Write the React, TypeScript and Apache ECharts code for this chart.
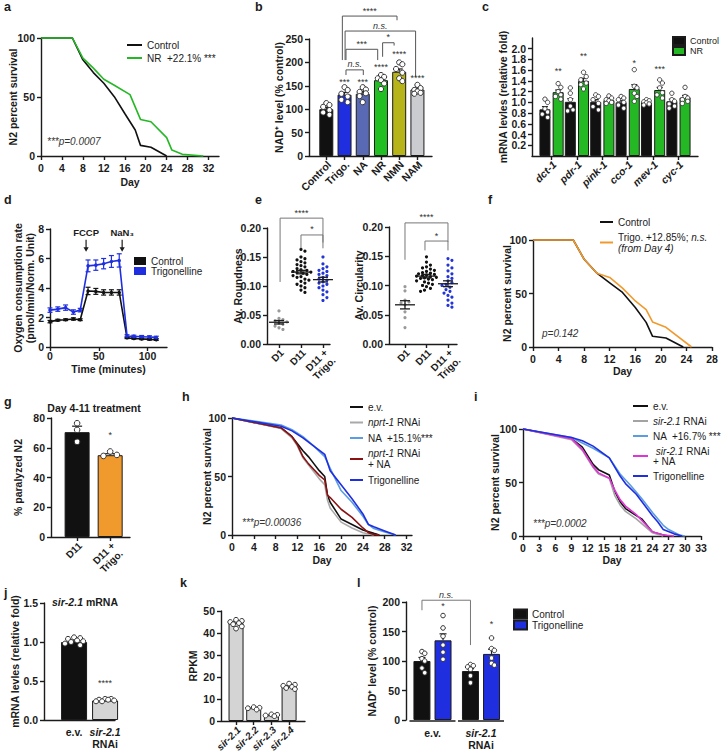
import React, { useEffect, useRef } from "react";
import * as echarts from "echarts";

const FONT = "'Liberation Sans', Arial, Helvetica, sans-serif";
const INK = "#1b1b1b";

/* ======================= DATA ======================= */
// a — N2 lifespan, NR
const A_X_TICKS = [0, 4, 8, 12, 16, 20, 24, 28, 32];
const SURV_Y_TICKS = [0, 50, 100];
const A_CTRL_DAY = [0, 6, 8, 10, 12, 14, 16, 18, 19, 21, 24];
const A_CTRL = [100, 100, 81.5, 70.7, 61.6, 50.3, 36, 22, 9, 7.4, 0];
const A_NR_DAY = [0, 6, 8, 10, 12, 14, 17, 19, 21, 24, 25, 27, 31];
const A_NR = [100, 100, 83, 74.5, 65, 60, 52, 31, 29, 15.6, 5, 1.4, 0];

// b — NAD+ level
const B_CATS = ["Control", "Trigo.", "NA", "NR", "NMN", "NAM"];
const B_MEAN = [100, 131, 133, 162, 180, 142];
const B_SEM = [4, 5, 5, 4, 6, 3];
const B_DOTS = [
  [113, 109, 105, 98, 93, 88],
  [147, 141, 133, 127, 120, 115],
  [147, 142, 137, 134, 128, 115],
  [173, 169, 166, 162, 155, 143],
  [200, 196, 186, 178, 166, 160],
  [152, 145, 141, 138, 135, 133],
];
const B_Y_TICKS = [0, 50, 100, 150, 200, 250];
const B_STARS = ["", "***", "***", "****", "****", "****"];
const B_STAR_Y = [0, 159, 159, 191, 218, 167];
const B_BRACKETS = [
  [0.88, 3.88, 299, 205, 290],
  [1.03, 4.9, 267, 205, 169],
  [1.08, 2.82, 228, 205, 205],
  [3.09, 3.72, 242, 212, 236],
  [1.08, 2.03, 184, 173, 173],
];
const B_BRACKET_LABELS = ["****", "{i|n.s.}", "***", "*", "{i|n.s.}"];

// c — mRNA levels
const C_GENES = ["dct-1", "pdr-1", "pink-1", "cco-1", "mev-1", "cyc-1"];
const C_CTRL_MEAN = [0.87, 1.01, 1.01, 1.0, 1.0, 1.02];
const C_CTRL_SEM = [0.05, 0.06, 0.04, 0.03, 0.02, 0.04];
const C_NR_MEAN = [1.19, 1.4, 1.04, 1.25, 1.23, 1.09];
const C_NR_SEM = [0.04, 0.05, 0.02, 0.08, 0.05, 0.04];
const C_CTRL_DOTS = [
  [1.06, 1.0, 0.88, 0.82, 0.78, 0.72],
  [1.27, 1.17, 1.05, 0.93, 0.86, 0.84],
  [1.14, 1.11, 1.05, 0.98, 0.92, 0.86],
  [1.11, 1.08, 1.05, 1.0, 0.95, 0.89],
  [1.05, 1.03, 1.01, 0.99, 0.97, 0.95],
  [1.17, 1.05, 1.02, 0.97, 0.93, 0.89],
];
const C_NR_DOTS = [
  [1.35, 1.28, 1.2, 1.14, 1.11, 1.06],
  [1.56, 1.48, 1.42, 1.36, 1.33, 1.25],
  [1.12, 1.08, 1.05, 1.03, 1.0, 0.98],
  [1.61, 1.3, 1.27, 1.17, 1.11, 1.02],
  [1.42, 1.36, 1.27, 1.18, 1.14, 1.08],
  [1.28, 1.11, 1.08, 1.05, 1.02, 0.98],
];
const C_Y_TICKS = [0, 0.2, 0.4, 0.6, 0.8, 1.0, 1.2, 1.4, 1.6, 1.8, 2.0, 2.2];
const C_STARS = ["**", "**", "", "*", "***", ""];
const C_STAR_Y = [1.585, 1.86, 0, 1.74, 1.62, 0];

// d — oxygen consumption
const D_TIME = [0, 8, 16, 24, 31, 39, 47, 55, 63, 71, 79, 86, 94, 102, 109];
const D_CTRL = [1.72, 1.82, 1.85, 1.9, 1.85, 3.8, 3.77, 3.7, 3.7, 3.7, 0.62, 0.58, 0.55, 0.52, 0.5];
const D_CTRL_SEM = [0.08, 0.06, 0.06, 0.08, 0.06, 0.25, 0.2, 0.18, 0.18, 0.18, 0.05, 0.05, 0.05, 0.05, 0.05];
const D_TRIG = [2.5, 2.57, 2.67, 2.37, 2.5, 5.5, 5.55, 5.65, 5.8, 5.87, 0.75, 0.72, 0.7, 0.68, 0.65];
const D_TRIG_SEM = [0.15, 0.15, 0.18, 0.15, 0.12, 0.4, 0.35, 0.35, 0.4, 0.45, 0.08, 0.08, 0.08, 0.08, 0.08];
const D_X_TICKS = [0, 50, 100];
const D_Y_TICKS = [0, 2, 4, 6, 8];
const D_INJECT_TIME = [37, 74];
const D_INJECT_LABELS = ["FCCP", "NaN₃"];

// e — roundness / circularity
const E_CATS = ["D1", "D11", "D11 +\nTrigo."];
const E_ROUND = [
  [0.057, 0.044, 0.042, 0.04, 0.038, 0.036, 0.034, 0.031, 0.028, 0.025],
  [0.163, 0.16, 0.15, 0.147, 0.145, 0.142, 0.14, 0.137, 0.135, 0.133, 0.13, 0.128, 0.127, 0.125, 0.124,
    0.123, 0.122, 0.12, 0.118, 0.116, 0.115, 0.112, 0.11, 0.108, 0.105, 0.103, 0.1, 0.097, 0.093, 0.089],
  [0.15, 0.138, 0.133, 0.13, 0.127, 0.125, 0.122, 0.12, 0.118, 0.115, 0.112, 0.11, 0.107, 0.105, 0.103,
    0.1, 0.097, 0.093, 0.09, 0.085, 0.08, 0.075],
];
const E_ROUND_MEAN = [0.0375, 0.124, 0.111];
const E_ROUND_SEM = [0.003, 0.003, 0.004];
const E_CIRC = [
  [0.098, 0.091, 0.075, 0.072, 0.07, 0.067, 0.055, 0.045, 0.028],
  [0.149, 0.14, 0.135, 0.132, 0.13, 0.128, 0.126, 0.124, 0.122, 0.121, 0.12, 0.119, 0.118, 0.117, 0.116,
    0.115, 0.114, 0.113, 0.112, 0.111, 0.11, 0.108, 0.106, 0.104, 0.102, 0.1, 0.098, 0.095, 0.092, 0.09],
  [0.146, 0.143, 0.135, 0.13, 0.125, 0.12, 0.115, 0.112, 0.108, 0.105, 0.102, 0.1, 0.097, 0.093, 0.09,
    0.087, 0.083, 0.08, 0.075, 0.07, 0.066, 0.063],
];
const E_CIRC_MEAN = [0.067, 0.116, 0.103];
const E_CIRC_SEM = [0.007, 0.003, 0.005];
const E_Y_TICKS = [0, 0.05, 0.1, 0.15, 0.2];
const E1_BRACKETS = [
  [0.05, 2.0, 0.217, 0.107, 0.175],
  [1.0, 2.0, 0.188, 0.165, 0.165],
];
const E2_BRACKETS = [
  [0.0, 2.0, 0.207, 0.144, 0.175],
  [0.93, 2.0, 0.176, 0.16, 0.16],
];
const E_BRACKET_LABELS = ["****", "*"];

// f — lifespan, trigonelline from day 4
const F_X_TICKS = [0, 4, 8, 12, 16, 20, 24, 28];
const F_CTRL_DAY = [0, 6.3, 8, 10, 12, 14, 16, 17.7, 18.7, 20.8, 23.5];
const F_CTRL = [100, 100, 82, 69, 60, 51, 37, 23, 10, 8.4, 0];
const F_TRIG_DAY = [0, 6.3, 8, 10, 12, 14, 16, 17.7, 18.7, 20.8, 24.8];
const F_TRIG = [100, 100, 82, 69, 65, 55, 43, 35, 23.4, 18.4, 0];

// g — paralysis
const G_CATS = ["D11", "D11 +\nTrigo."];
const G_MEAN = [70.5, 55];
const G_SEM = [4, 1];
const G_DOTS = [
  [76.5, 72, 64],
  [57.5, 55.2, 54.5],
];
const G_Y_TICKS = [0, 20, 40, 60, 80];
const G_STARS = ["", "*"];
const G_STAR_Y = [0, 68.6];

// h — lifespan, nprt-1
const H_X_TICKS = [0, 4, 8, 12, 16, 20, 24, 28, 32];
const H_EV_DAY = [0, 9, 11, 12, 13, 14, 15, 16, 17, 17.5, 18, 20, 22, 24, 26, 27];
const H_EV = [100, 91.5, 84, 78, 72, 67, 61, 55, 50, 34, 28, 13.6, 9, 4.3, 1.4, 0];
const H_NPRT_DAY = [0, 9, 11, 12, 13, 14, 15, 16, 17, 17.5, 18, 20, 22, 24, 26];
const H_NPRT = [100, 91, 83, 76, 66, 60, 54, 48, 43, 30, 23, 11, 6, 2, 0];
const H_NA_DAY = [0, 9, 11, 13, 15, 17, 18, 20, 22, 24, 25, 26, 28, 30];
const H_NA = [100, 94, 90, 84, 76, 67, 57, 38, 28, 16, 9, 5.5, 2.5, 0];
const H_NPRTNA_DAY = [0, 9, 11, 12, 13, 14, 15, 16, 17, 17.5, 18, 20, 22, 24, 25, 26, 27];
const H_NPRTNA = [100, 91.5, 84, 77, 67, 61, 56, 51, 47, 34, 32, 22, 15, 6, 2, 0.5, 0];
const H_TRIG_DAY = [0, 9, 11, 13, 15, 17, 18, 20, 22, 24, 25, 26, 28, 30];
const H_TRIG = [100, 93, 89, 83, 76, 69, 55, 43, 31, 18, 9, 7, 3.5, 0];

// i — lifespan, sir-2.1
const I_X_TICKS = [0, 3, 6, 9, 12, 15, 18, 21, 24, 27, 30, 33];
const I_EV_DAY = [0, 9, 11, 13, 14, 16, 17, 18, 19, 21, 22, 24, 26, 27];
const I_EV = [100, 91, 83, 67, 62, 57, 42, 32, 25.6, 19, 16, 3.8, 1, 0];
const I_SIR_DAY = [0, 9, 11, 13, 14, 16, 17, 18, 19, 21, 24, 26];
const I_SIR = [100, 90, 80, 64, 58, 54, 38, 29, 23, 16, 3, 0];
const I_NA_DAY = [0, 9, 11, 13, 16, 18, 20, 22, 24, 26, 27, 29, 30];
const I_NA = [100, 92, 87, 82, 73, 58, 47, 35, 22, 10, 6, 1, 0];
const I_SIRNA_DAY = [0, 9, 11, 13, 14, 16, 17, 18, 19, 21, 24, 26, 28];
const I_SIRNA = [100, 91, 81, 65, 59, 54, 43, 34, 28, 20, 4, 1, 0];
const I_TRIG_DAY = [0, 9, 11, 13, 16, 18, 19, 21, 24, 25, 26, 28, 29.5];
const I_TRIG = [100, 92, 89, 84, 73, 56, 49, 39, 19, 13, 6, 2, 0];

// j — sir-2.1 mRNA
const J_CATS = ["e.v.", "{i|sir-2.1}\nRNAi"];
const J_MEAN = [1.0, 0.25];
const J_SEM = [0.015, 0.01];
const J_DOTS = [
  [1.06, 1.05, 1.04, 1.02, 1.01, 1.0, 0.98, 0.96],
  [0.27, 0.27, 0.26, 0.26, 0.25, 0.24, 0.24],
];
const J_Y_TICKS = [0, 0.5, 1.0, 1.5];
const J_STARS = ["", "****"];
const J_STAR_Y = [0, 0.47];

// k — RPKM
const K_CATS = ["sir-2.1", "sir-2.2", "sir-2.3", "sir-2.4"];
const K_MEAN = [44.5, 5.8, 2.6, 15.7];
const K_SEM = [0.6, 0.3, 0.2, 0.4];
const K_DOTS = [
  [46, 45.5, 45, 44.5, 44, 43, 42],
  [6.3, 6.0, 5.8, 5.2],
  [3.0, 2.8, 2.5, 2.2],
  [17, 16.5, 16, 15.5, 15, 14.5],
];
const K_Y_TICKS = [0, 10, 20, 30, 40, 50];

// l — NAD+ with sir-2.1 RNAi
const L_GROUPS = ["e.v.", "{i|sir-2.1}\nRNAi"];
const L_CTRL_MEAN = [100, 83];
const L_CTRL_SEM = [6, 4];
const L_TRIG_MEAN = [135, 112];
const L_TRIG_SEM = [11, 8];
const L_CTRL_DOTS = [
  [116, 113, 104, 100, 88, 80],
  [94, 92, 90, 86, 75, 63],
];
const L_TRIG_DOTS = [
  [177, 156, 142, 127, 115, 103],
  [139, 121, 118, 105, 96, 93],
];
const L_Y_TICKS = [0, 50, 100, 150, 200];
const L_STARS = ["*", "*"];
const L_STAR_Y = [193, 162];
const L_BRACKET = [[-0.217, 0.783, 203, 186, 127]];
const L_BRACKET_LABELS = ["{i|n.s.}"];

/* ======================= LAYOUT HELPERS ======================= */
const GRIDS = [
  { left: 41, top: 38, width: 178, height: 118 }, // 0 a
  { left: 309, top: 39, width: 123, height: 117 }, // 1 b
  { left: 532, top: 38, width: 166, height: 118 }, // 2 c
  { left: 50, top: 229, width: 117, height: 118 }, // 3 d
  { left: 267, top: 228, width: 63, height: 116 }, // 4 e1
  { left: 389, top: 227, width: 68, height: 117 }, // 5 e2
  { left: 533, top: 240, width: 179, height: 107 }, // 6 f
  { left: 51, top: 418, width: 79, height: 119 }, // 7 g
  { left: 232, top: 418, width: 180, height: 117 }, // 8 h
  { left: 523, top: 429, width: 178, height: 107 }, // 9 i
  { left: 44, top: 603, width: 71, height: 117 }, // 10 j
  { left: 221, top: 611, width: 84, height: 110 }, // 11 k
  { left: 406, top: 602, width: 101, height: 118 }, // 12 l
];

const RICH_I = {
  i: { fontStyle: "italic", fontWeight: "bold", fontSize: 10.5, fontFamily: FONT, color: INK },
};
const NAME_STYLE = { fontFamily: FONT, fontWeight: "bold", fontSize: 10.5, color: INK, lineHeight: 12 };

function axis(kind: "x" | "y", gi: number, min: number, max: number, ticks: number[], o: any = {}) {
  const a: any = {
    type: "value",
    gridIndex: gi,
    min,
    max,
    position: kind === "x" ? "bottom" : "left",
    axisLine: { show: o.line !== false, onZero: false, lineStyle: { color: INK, width: 1.4 } },
    axisTick: {
      show: o.tick !== false,
      length: 4,
      customValues: ticks,
      lineStyle: { color: INK, width: 1.4 },
    },
    axisLabel: {
      show: o.label !== false,
      customValues: ticks,
      margin: o.margin ?? 6,
      fontFamily: FONT,
      fontWeight: "bold",
      fontSize: 10.5,
      color: INK,
      lineHeight: 12,
      rich: RICH_I,
    },
    splitLine: { show: false },
    axisPointer: { show: false },
  };
  if (o.fmt) a.axisLabel.formatter = o.fmt;
  if (o.name) {
    a.name = o.name;
    a.nameLocation = "middle";
    a.nameGap = o.nameGap;
    a.nameRotate = kind === "y" ? 90 : 0;
    a.nameTextStyle = NAME_STYLE;
    a.nameMoveOverlap = false;
  }
  return a;
}

function swarm(vals: number[], ppu: number, d: number, maxOff: number): number[] {
  const order = vals.map((_, i) => i).sort((a, b) => vals[b] - vals[a]);
  const placed: number[][] = [];
  const out: number[] = vals.map(() => 0);
  const step = d * 0.55;
  const cands: number[] = [0];
  for (let k = 1; k * step <= maxOff + 1e-6; k++) cands.push(k * step, -k * step);
  for (const i of order) {
    const y = vals[i] * ppu;
    let best = 0;
    let bestScore = -Infinity;
    for (const c of cands) {
      let minD = Infinity;
      for (const p of placed) minD = Math.min(minD, Math.hypot(p[0] - c, p[1] - y));
      if (minD >= d) {
        best = c;
        break;
      }
      if (minD > bestScore) {
        bestScore = minD;
        best = c;
      }
    }
    placed.push([best, y]);
    out[i] = best;
  }
  return out;
}

function ppuOf(gi: number, span: number) {
  return GRIDS[gi].height / span;
}

function dots(gi: number, groups: number[][], xs: number[], ppu: number, o: any) {
  const data: number[][] = [];
  groups.forEach((vals, g) => {
    const offs = swarm(vals, ppu, o.d ?? o.r * 2 + 0.5, o.maxOff);
    vals.forEach((v, k) => data.push([xs[g], v, offs[k] + (o.xoff ?? 0), g]));
  });
  const pick = (c: any, g: number) => (Array.isArray(c) ? c[g] : c);
  return {
    type: "custom",
    xAxisIndex: gi,
    yAxisIndex: gi,
    clip: false,
    silent: true,
    z: 6,
    data,
    renderItem: (_p: any, api: any) => {
      const c = api.coord([api.value(0), api.value(1)]);
      const g = api.value(3);
      return {
        type: "circle",
        shape: { cx: c[0] + api.value(2), cy: c[1], r: o.r },
        style: { fill: pick(o.fill, g), stroke: pick(o.stroke, g), lineWidth: o.lw },
      };
    },
  };
}

function errs(gi: number, xs: number[], means: number[], sems: number[], o: any) {
  return {
    type: "custom",
    xAxisIndex: gi,
    yAxisIndex: gi,
    clip: false,
    silent: true,
    z: o.z ?? 5,
    data: xs.map((x, i) => [x, means[i], sems[i]]),
    renderItem: (_p: any, api: any) => {
      const x = api.value(0);
      const m = api.value(1);
      const s = api.value(2);
      const pt = api.coord([x, m + s]);
      const pb = api.coord([x, o.up ? m : m - s]);
      const pm = api.coord([x, m]);
      const cx = pt[0] + (o.xoff ?? 0);
      const st = { stroke: o.color ?? INK, lineWidth: o.lw ?? 1.2 };
      const ch: any[] = [
        { type: "line", shape: { x1: cx, y1: pt[1], x2: cx, y2: pb[1] }, style: st },
        { type: "line", shape: { x1: cx - o.cap, y1: pt[1], x2: cx + o.cap, y2: pt[1] }, style: st },
      ];
      if (!o.up) ch.push({ type: "line", shape: { x1: cx - o.cap, y1: pb[1], x2: cx + o.cap, y2: pb[1] }, style: st });
      if (o.meanW) ch.push({ type: "line", shape: { x1: cx - o.meanW, y1: pm[1], x2: cx + o.meanW, y2: pm[1] }, style: st });
      return { type: "group", children: ch };
    },
  };
}

function brackets(gi: number, items: number[][], labels: string[], o: any) {
  return {
    type: "custom",
    xAxisIndex: gi,
    yAxisIndex: gi,
    clip: false,
    silent: true,
    z: 7,
    data: items.map((b, i) => [b[0], b[2], b[1], b[3], b[4], i]),
    renderItem: (_p: any, api: any) => {
      const x1 = api.value(0), yT = api.value(1), x2 = api.value(2), yL = api.value(3), yR = api.value(4);
      const i = api.value(5);
      const a = api.coord([x1, yL]);
      const b = api.coord([x1, yT]);
      const c = api.coord([x2, yT]);
      const d = api.coord([x2, yR]);
      return {
        type: "group",
        children: [
          {
            type: "polyline",
            shape: { points: [a, b, c, d] },
            style: { stroke: o.color, lineWidth: o.lw ?? 1, fill: "none" },
          },
          {
            type: "text",
            x: (b[0] + c[0]) / 2,
            y: b[1] - 1,
            style: {
              text: labels[i],
              align: "center",
              verticalAlign: "bottom",
              fontFamily: FONT,
              fontSize: o.size ?? 9,
              fill: "#333",
              rich: { i: { fontStyle: "italic", fontSize: o.size ?? 9, fontFamily: FONT, fill: "#333", color: "#333" } },
            },
          },
        ],
      };
    },
  };
}

function texts(gi: number, xs: number[], ys: number[], labels: string[], o: any = {}) {
  const data: number[][] = [];
  labels.forEach((t, i) => {
    if (t) data.push([xs[i], ys[i], i]);
  });
  return {
    type: "custom",
    xAxisIndex: gi,
    yAxisIndex: gi,
    clip: false,
    silent: true,
    z: 7,
    data,
    renderItem: (_p: any, api: any) => {
      const c = api.coord([api.value(0), api.value(1)]);
      return {
        type: "text",
        x: c[0] + (o.dx ?? 0),
        y: c[1],
        style: {
          text: labels[api.value(2)],
          align: "center",
          verticalAlign: "middle",
          fontFamily: FONT,
          fontSize: o.size ?? 9,
          fill: o.color ?? "#333",
        },
      };
    },
  };
}

// rotated (45°) category labels placed at each tick through the axis scale
function rotLabels(gi: number, xs: number[], labels: string[], o: any = {}) {
  const lh = o.lh ?? 11;
  return {
    type: "custom",
    xAxisIndex: gi,
    yAxisIndex: gi,
    clip: false,
    silent: true,
    z: 8,
    data: xs.map((x, i) => [x, 0, i]),
    renderItem: (_p: any, api: any) => {
      const c = api.coord([api.value(0), api.value(1)]);
      return {
        type: "text",
        x: c[0] + (o.dx ?? 3),
        y: c[1] + (o.dy ?? 7) - lh / 2,
        rotation: Math.PI / 4,
        originX: 0,
        originY: lh / 2,
        style: {
          text: labels[api.value(2)],
          align: "right",
          verticalAlign: "top",
          fontFamily: FONT,
          fontWeight: "bold",
          fontStyle: o.italic ? "italic" : "normal",
          fontSize: o.size ?? 10.5,
          lineHeight: lh,
          fill: INK,
        },
      };
    },
  };
}

function line(gi: number, name: string, xs: number[], ys: number[], color: string, extra: any = {}) {
  return {
    type: "line",
    name,
    xAxisIndex: gi,
    yAxisIndex: gi,
    data: xs.map((x, i) => [x, ys[i]]),
    symbol: "none",
    color,
    lineStyle: { color, width: 1.6 },
    clip: false,
    z: 3,
    ...extra,
  };
}

function bars(gi: number, name: string, xs: number[], vals: number[], color: any, width: number, extra: any = {}) {
  return {
    type: "bar",
    name,
    xAxisIndex: gi,
    yAxisIndex: gi,
    barWidth: width,
    data: xs.map((x, i) => ({
      value: [x, vals[i]],
      itemStyle: { color: Array.isArray(color) ? color[i] : color },
    })),
    itemStyle: { color: Array.isArray(color) ? color[0] : color, borderColor: INK, borderWidth: 1 },
    z: 2,
    ...extra,
  };
}

const idx = (arr: any[]) => arr.map((_, i) => i);

const LEGEND_TEXT: Record<string, string> = {
  "a-ctrl": "Control",
  "a-nr": "NR  +22.1% ***",
  "c-ctrl": "Control",
  "c-nr": "NR",
  "d-ctrl": "Control",
  "d-trig": "Trigonelline",
  "f-ctrl": "Control",
  "f-trig": "Trigo. +12.85%; {i|n.s.}\n{i|(from Day 4)}",
  "h-ev": "e.v.",
  "h-nprt": "{i|nprt-1} RNAi",
  "h-na": "NA  +15.1%***",
  "h-nprtna": "{i|nprt-1} RNAi\n+ NA",
  "h-trig": "Trigonelline",
  "i-ev": "e.v.",
  "i-sir": "{i|sir-2.1} RNAi",
  "i-na": "NA  +16.7% ***",
  "i-sirna": " {i|sir-2.1} RNAi\n+ NA",
  "i-trig": "Trigonelline",
  "l-ctrl": "Control",
  "l-trig": "Trigonelline",
};

function legend(names: string[], left: number, top: number, o: any) {
  const lh = o.lh ?? 11;
  const fs = o.fs ?? 10;
  return {
    data: names,
    left,
    top,
    orient: "vertical",
    padding: 0,
    itemWidth: o.w,
    itemHeight: o.h,
    itemGap: o.gap ?? 0,
    icon: "rect",
    selectedMode: false,
    formatter: (n: string) => LEGEND_TEXT[n],
    textStyle: {
      fontFamily: FONT,
      fontSize: fs,
      color: INK,
      lineHeight: lh,
      rich: { i: { fontStyle: "italic", fontFamily: FONT, fontSize: fs, color: INK, lineHeight: lh } },
    },
  };
}

function gText(x: number, y: number, text: string, o: any = {}) {
  return {
    type: "text",
    x,
    y,
    silent: true,
    style: {
      text,
      fill: o.color ?? INK,
      fontFamily: FONT,
      fontSize: o.size ?? 10,
      fontWeight: o.weight ?? "normal",
      fontStyle: o.style ?? "normal",
      align: o.align ?? "left",
      verticalAlign: "middle",
      rich: o.rich,
    },
  };
}

/* ======================= OPTION ======================= */
function buildOption() {
  const BLUE = "#1f2fe0";
  const LBLUE = "#5b9de0";
  const GREEN = "#25b825";
  const ORANGE = "#f09a2e";
  const GREY_BAR = "#d4d4d4";

  const xAxes = [
    axis("x", 0, 0, 34, A_X_TICKS, { name: "Day", nameGap: 20 }),
    axis("x", 1, -0.95, 5.8, idx(B_CATS), { label: false }),
    axis("x", 2, -0.77, 5.77, idx(C_GENES), { label: false }),
    axis("x", 3, 0, 120, D_X_TICKS, { name: "Time (minutes)", nameGap: 16, margin: 3 }),
    axis("x", 4, -0.545, 2.32, idx(E_CATS), { label: false }),
    axis("x", 5, -0.744, 2.42, idx(E_CATS), { label: false }),
    axis("x", 6, 0, 28, F_X_TICKS, { name: "Day", nameGap: 18 }),
    axis("x", 7, -0.79, 1.6, idx(G_CATS), { label: false }),
    axis("x", 8, 0, 33, H_X_TICKS, { name: "Day", nameGap: 19 }),
    axis("x", 9, 0, 33, I_X_TICKS, { name: "Day", nameGap: 18 }),
    axis("x", 10, -0.97, 1.32, idx(J_CATS), { tick: false, fmt: (v: number) => J_CATS[Math.round(v)], margin: 6 }),
    axis("x", 11, -0.85, 3.9, idx(K_CATS), { label: false }),
    axis("x", 12, -0.546, 1.536, idx(L_GROUPS), { line: false, tick: false, fmt: (v: number) => L_GROUPS[Math.round(v)], margin: 7 }),
  ];

  const yAxes = [
    axis("y", 0, 0, 100, SURV_Y_TICKS, { name: "N2 percent survival", nameGap: 22 }),
    axis("y", 1, 0, 250, B_Y_TICKS, { name: "NAD⁺ level (% control)", nameGap: 24 }),
    axis("y", 2, 0, 2.2, C_Y_TICKS, { name: "mRNA levles (relative fold)", nameGap: 23, fmt: (v: number) => v.toFixed(1) }),
    axis("y", 3, 0, 8, D_Y_TICKS, { name: "Oxygen consumption rate\n(pmol/min/Norm. Unit)", nameGap: 14 }),
    axis("y", 4, 0, 0.2, E_Y_TICKS, { name: "Av. Roundness", nameGap: 23, fmt: (v: number) => v.toFixed(2) }),
    axis("y", 5, 0, 0.2, E_Y_TICKS, { name: "Av. Circularity", nameGap: 24, fmt: (v: number) => v.toFixed(2) }),
    axis("y", 6, 0, 100, SURV_Y_TICKS, { name: "N2 percent survival", nameGap: 20 }),
    axis("y", 7, 0, 80, G_Y_TICKS, { name: "% paralyzed N2", nameGap: 27 }),
    axis("y", 8, 0, 100, SURV_Y_TICKS, { name: "N2 percent survival", nameGap: 19 }),
    axis("y", 9, 0, 100, SURV_Y_TICKS, { name: "N2 percent survival", nameGap: 22 }),
    axis("y", 10, 0, 1.5, J_Y_TICKS, { name: "mRNA levles (relative fold)", nameGap: 23, fmt: (v: number) => v.toFixed(1) }),
    axis("y", 11, 0, 50, K_Y_TICKS, { name: "RPKM", nameGap: 22 }),
    axis("y", 12, 0, 200, L_Y_TICKS, { name: "NAD⁺ level (% control)", nameGap: 28 }),
  ];

  const series: any[] = [];

  // a
  series.push(line(0, "a-ctrl", A_CTRL_DAY, A_CTRL, "#111111"));
  series.push(line(0, "a-nr", A_NR_DAY, A_NR, GREEN));

  // b
  const bx = idx(B_CATS);
  series.push(bars(1, "b-bars", bx, B_MEAN, ["#111111", BLUE, "#5a69b3", "#22bf22", "#b7b41a", "#cbccd0"], 14));
  series.push(errs(1, bx, B_MEAN, B_SEM, { up: true, cap: 3.5 }));
  series.push(dots(1, B_DOTS, bx, ppuOf(1, 250), { r: 2.6, fill: "#fff", stroke: "#333", lw: 1, maxOff: 6 }));
  series.push(brackets(1, B_BRACKETS, B_BRACKET_LABELS, { color: "#555", size: 9 }));
  series.push(texts(1, bx, B_STAR_Y, B_STARS, { size: 9 }));
  series.push(rotLabels(1, bx, B_CATS, { size: 10.5 }));

  // c
  const cx = idx(C_GENES);
  const cOff = 6.6;
  series.push(bars(2, "c-ctrl", cx, C_CTRL_MEAN, "#111111", 11, { barGap: "20%" }));
  series.push(bars(2, "c-nr", cx, C_NR_MEAN, GREEN, 11, { barGap: "20%" }));
  series.push(errs(2, cx, C_CTRL_MEAN, C_CTRL_SEM, { up: true, cap: 3, xoff: -cOff }));
  series.push(errs(2, cx, C_NR_MEAN, C_NR_SEM, { up: true, cap: 3, xoff: cOff }));
  series.push(dots(2, C_CTRL_DOTS, cx, ppuOf(2, 2.2), { r: 2.2, fill: "#fff", stroke: "#333", lw: 0.9, maxOff: 4, xoff: -cOff }));
  series.push(dots(2, C_NR_DOTS, cx, ppuOf(2, 2.2), { r: 2.2, fill: "#fff", stroke: "#333", lw: 0.9, maxOff: 4, xoff: cOff }));
  series.push(texts(2, cx, C_STAR_Y, C_STARS, { size: 9, dx: cOff }));
  series.push(rotLabels(2, cx, C_GENES, { size: 10.5, italic: true }));

  // d
  series.push(errs(3, D_TIME, D_CTRL, D_CTRL_SEM, { cap: 2.5, color: "#111", lw: 1.2, z: 3 }));
  series.push(errs(3, D_TIME, D_TRIG, D_TRIG_SEM, { cap: 2.5, color: BLUE, lw: 1.2, z: 3 }));
  series.push(line(3, "d-ctrl", D_TIME, D_CTRL, "#111111", { symbol: "circle", symbolSize: 3.5, showSymbol: true }));
  series.push(line(3, "d-trig", D_TIME, D_TRIG, BLUE, { symbol: "circle", symbolSize: 3.5, showSymbol: true }));
  series.push({
    type: "custom",
    xAxisIndex: 3,
    yAxisIndex: 3,
    clip: false,
    silent: true,
    data: D_INJECT_TIME.map((t, i) => [t, 6.45, i]),
    renderItem: (_p: any, api: any) => {
      const tip = api.coord([api.value(0), api.value(1)]);
      const i = api.value(2);
      const x = tip[0];
      const y = tip[1];
      return {
        type: "group",
        children: [
          { type: "line", shape: { x1: x, y1: y - 12, x2: x, y2: y - 3 }, style: { stroke: INK, lineWidth: 1.2 } },
          { type: "polygon", shape: { points: [[x - 2.6, y - 4.5], [x + 2.6, y - 4.5], [x, y]] }, style: { fill: INK } },
          {
            type: "text",
            x,
            y: y - 14,
            style: { text: D_INJECT_LABELS[i], align: "center", verticalAlign: "bottom", fontFamily: FONT, fontWeight: "bold", fontSize: 9.5, fill: INK },
          },
        ],
      };
    },
  });

  // e
  const ex = idx(E_CATS);
  const eColors = ["#9a9a9a", "#111111", "#2536d8"];
  series.push(dots(4, E_ROUND, ex, ppuOf(4, 0.2), { r: 1.6, d: 3.6, fill: eColors, stroke: "none", lw: 0, maxOff: 10 }));
  series.push(errs(4, ex, E_ROUND_MEAN, E_ROUND_SEM, { cap: 5, meanW: 10, lw: 1.3, z: 7 }));
  series.push(brackets(4, E1_BRACKETS, E_BRACKET_LABELS, { color: "#777", size: 9 }));
  series.push(rotLabels(4, ex, E_CATS, { size: 10, lh: 11 }));
  series.push(dots(5, E_CIRC, ex, ppuOf(5, 0.2), { r: 1.6, d: 3.6, fill: eColors, stroke: "none", lw: 0, maxOff: 10 }));
  series.push(errs(5, ex, E_CIRC_MEAN, E_CIRC_SEM, { cap: 5, meanW: 10, lw: 1.3, z: 7 }));
  series.push(brackets(5, E2_BRACKETS, E_BRACKET_LABELS, { color: "#777", size: 9 }));
  series.push(rotLabels(5, ex, E_CATS, { size: 10, lh: 11 }));

  // f
  series.push(line(6, "f-ctrl", F_CTRL_DAY, F_CTRL, "#111111"));
  series.push(line(6, "f-trig", F_TRIG_DAY, F_TRIG, ORANGE));

  // g
  const gx = idx(G_CATS);
  series.push(bars(7, "g-bars", gx, G_MEAN, ["#111111", ORANGE], 25));
  series.push(errs(7, gx, G_MEAN, G_SEM, { up: true, cap: 5 }));
  series.push(dots(7, G_DOTS, gx, ppuOf(7, 80), { r: 2.8, fill: "#fff", stroke: "#333", lw: 1, maxOff: 8 }));
  series.push(texts(7, gx, G_STAR_Y, G_STARS, { size: 9 }));
  series.push(rotLabels(7, gx, G_CATS, { size: 10, lh: 11 }));

  // h
  series.push(line(8, "h-ev", H_EV_DAY, H_EV, "#111111"));
  series.push(line(8, "h-nprt", H_NPRT_DAY, H_NPRT, "#a9a9a9"));
  series.push(line(8, "h-na", H_NA_DAY, H_NA, LBLUE));
  series.push(line(8, "h-nprtna", H_NPRTNA_DAY, H_NPRTNA, "#8b1212"));
  series.push(line(8, "h-trig", H_TRIG_DAY, H_TRIG, BLUE));

  // i
  series.push(line(9, "i-ev", I_EV_DAY, I_EV, "#111111"));
  series.push(line(9, "i-sir", I_SIR_DAY, I_SIR, "#a3a3a3"));
  series.push(line(9, "i-na", I_NA_DAY, I_NA, LBLUE));
  series.push(line(9, "i-sirna", I_SIRNA_DAY, I_SIRNA, "#e034d6"));
  series.push(line(9, "i-trig", I_TRIG_DAY, I_TRIG, BLUE));

  // j
  const jx = idx(J_CATS);
  series.push(bars(10, "j-bars", jx, J_MEAN, ["#111111", GREY_BAR], 26));
  series.push(errs(10, jx, J_MEAN, J_SEM, { up: true, cap: 5 }));
  series.push(dots(10, J_DOTS, jx, ppuOf(10, 1.5), { r: 2.5, fill: "#fff", stroke: "#333", lw: 1, maxOff: 10 }));
  series.push(texts(10, jx, J_STAR_Y, J_STARS, { size: 9 }));

  // k
  const kx = idx(K_CATS);
  series.push(bars(11, "k-bars", kx, K_MEAN, GREY_BAR, 15));
  series.push(errs(11, kx, K_MEAN, K_SEM, { up: true, cap: 3 }));
  series.push(dots(11, K_DOTS, kx, ppuOf(11, 50), { r: 2.4, fill: "#fff", stroke: "#333", lw: 1, maxOff: 6 }));
  series.push(rotLabels(11, kx, K_CATS, { size: 10, italic: true }));

  // l
  const lx = idx(L_GROUPS);
  const lOff = 10.54;
  series.push(bars(12, "l-ctrl", lx, L_CTRL_MEAN, "#111111", 17, { barGap: "24%" }));
  series.push(bars(12, "l-trig", lx, L_TRIG_MEAN, BLUE, 17, { barGap: "24%" }));
  series.push(errs(12, lx, L_CTRL_MEAN, L_CTRL_SEM, { up: true, cap: 3.5, xoff: -lOff }));
  series.push(errs(12, lx, L_TRIG_MEAN, L_TRIG_SEM, { up: true, cap: 3.5, xoff: lOff }));
  series.push(dots(12, L_CTRL_DOTS, lx, ppuOf(12, 200), { r: 2.3, fill: "#fff", stroke: "#333", lw: 1, maxOff: 5, xoff: -lOff }));
  series.push(dots(12, L_TRIG_DOTS, lx, ppuOf(12, 200), { r: 2.3, fill: "#fff", stroke: "#333", lw: 1, maxOff: 5, xoff: lOff }));
  series.push(texts(12, lx, L_STAR_Y, L_STARS, { size: 9, dx: lOff }));
  series.push(brackets(12, L_BRACKET, L_BRACKET_LABELS, { color: "#777", size: 9 }));
  series.push({
    type: "custom",
    xAxisIndex: 12,
    yAxisIndex: 12,
    clip: false,
    silent: true,
    data: lx.map((x) => [x, 0]),
    renderItem: (_p: any, api: any) => {
      const c = api.coord([api.value(0), api.value(1)]);
      return {
        type: "line",
        shape: { x1: c[0] - 23, y1: c[1] + 1, x2: c[0] + 23, y2: c[1] + 1 },
        style: { stroke: INK, lineWidth: 1.4 },
      };
    },
  });

  const legends = [
    legend(["a-ctrl", "a-nr"], 127, 39.5, { w: 15, h: 2, gap: 2, lh: 11 }),
    legend(["c-ctrl", "c-nr"], 672, 36, { w: 12, h: 8, gap: 0, lh: 10, fs: 9 }),
    legend(["d-ctrl", "d-trig"], 134, 256, { w: 12, h: 8, gap: 0, lh: 10 }),
    legend(["f-ctrl", "f-trig"], 600, 216.5, { w: 13, h: 2, gap: 4, lh: 11 }),
    legend(["h-ev", "h-nprt", "h-na", "h-nprtna", "h-trig"], 350, 401.5, { w: 13, h: 2, gap: 4.5, lh: 11 }),
    legend(["i-ev", "i-sir", "i-na", "i-sirna", "i-trig"], 633, 401, { w: 15, h: 2, gap: 5, lh: 10 }),
    legend(["l-ctrl", "l-trig"], 513, 608.5, { w: 13, h: 9, gap: 0, lh: 11 }),
  ];

  const letters: any[] = [
    ["a", 4, 7], ["b", 255, 7], ["c", 482, 7], ["d", 4, 200], ["e", 255, 200], ["f", 488, 200],
    ["g", 4, 402], ["h", 182, 397], ["i", 474, 397], ["j", 4, 593], ["k", 180, 583], ["l", 357, 583],
  ].map(([t, x, y]) => gText(x as number, y as number, t as string, { weight: "bold", size: 12.5 }));

  const graphics = [
    ...letters,
    gText(94, 408, "Day 4-11 treatment", { weight: "bold", size: 10.5, align: "center" }),
    gText(85, 602, "{i|sir-2.1} mRNA", { weight: "bold", size: 10.5, align: "center", rich: { i: { fontStyle: "italic", fontWeight: "bold", fontSize: 10.5, fontFamily: FONT, fill: INK } } }),
    gText(47, 141, "***p=0.0007", { style: "italic", size: 10, color: "#333" }),
    gText(542, 333, "p=0.142", { style: "italic", size: 10, color: "#333" }),
    gText(242, 522, "***p=0.00036", { style: "italic", size: 10, color: "#333" }),
    gText(533, 523, "***p=0.0002", { style: "italic", size: 10, color: "#333" }),
  ];

  return {
    animation: false,
    backgroundColor: "#ffffff",
    textStyle: { fontFamily: FONT },
    grid: GRIDS.map((g) => ({ ...g, containLabel: false, outerBoundsMode: "none", show: false })),
    xAxis: xAxes,
    yAxis: yAxes,
    legend: legends,
    series,
    graphic: { elements: graphics },
  };
}

export default function App() {
  const ref = useRef<HTMLDivElement>(null);
  useEffect(() => {
    document.body.style.margin = "0";
    const chart = echarts.init(ref.current as HTMLDivElement, null, { renderer: "svg", width: 722, height: 754 });
    chart.setOption(buildOption() as any);
    return () => chart.dispose();
  }, []);
  return <div ref={ref} style={{ width: 722, height: 754, background: "#fff" }} />;
}
